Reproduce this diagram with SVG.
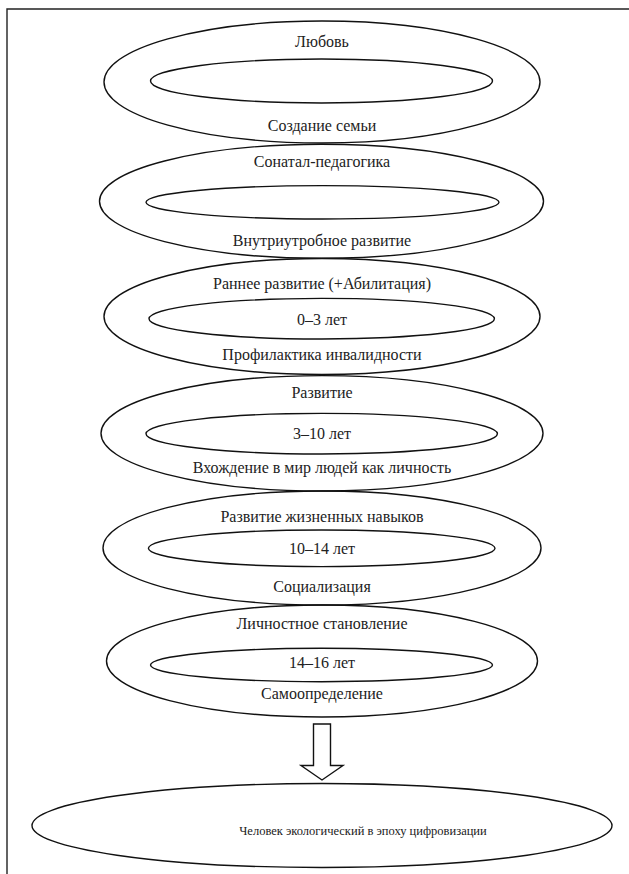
<svg xmlns="http://www.w3.org/2000/svg" width="629" height="874" viewBox="0 0 629 874">
<style>
.o{fill:none;stroke:#111;stroke-width:1.4}
.t{font-family:"Liberation Serif","Times New Roman",serif;font-size:16px;fill:#222;text-anchor:middle}
.s{font-size:12.5px}
</style>
<rect x="0" y="0" width="629" height="874" fill="#fff"/>
<path d="M7 874 V9 H629" fill="none" stroke="#222" stroke-width="1.4"/>
<g id="n1">
<ellipse class="o" cx="322" cy="82" rx="218" ry="61"/>
<ellipse class="o" cx="321.5" cy="81" rx="171" ry="22"/>
<text class="t" x="322" y="47">Любовь</text>
<text class="t" x="322" y="131">Создание семьи</text>
</g>
<g id="n2">
<ellipse class="o" cx="321.5" cy="201.3" rx="222" ry="57"/>
<ellipse class="o" cx="322.5" cy="202.3" rx="176.5" ry="16.7"/>
<text class="t" x="322" y="166.7">Сонатал-педагогика</text>
<text class="t" x="322" y="245.7">Внутриутробное развитие</text>
</g>
<g id="n3">
<ellipse class="o" cx="322" cy="316.5" rx="218" ry="58"/>
<ellipse class="o" cx="321.7" cy="318.7" rx="172.7" ry="20.3"/>
<text class="t" x="322" y="289">Раннее развитие (+Абилитация)</text>
<text class="t" x="322" y="325">0–3 лет</text>
<text class="t" x="322" y="360">Профилактика инвалидности</text>
</g>
<g id="n4">
<ellipse class="o" cx="322" cy="433.3" rx="221" ry="57.7"/>
<ellipse class="o" cx="321.7" cy="433.7" rx="175.7" ry="20.3"/>
<text class="t" x="322" y="398.3">Развитие</text>
<text class="t" x="322" y="439">3–10 лет</text>
<text class="t" x="322" y="472.7">Вхождение в мир людей как личность</text>
</g>
<g id="n5">
<ellipse class="o" cx="322" cy="548" rx="219" ry="57"/>
<ellipse class="o" cx="321.7" cy="548.3" rx="173.3" ry="18.3"/>
<text class="t" x="322" y="521.7">Развитие жизненных навыков</text>
<text class="t" x="322" y="554">10–14 лет</text>
<text class="t" x="322" y="591.7">Социализация</text>
</g>
<g id="n6">
<ellipse class="o" cx="322" cy="661" rx="215.5" ry="56"/>
<ellipse class="o" cx="321.5" cy="665" rx="171" ry="16.7"/>
<text class="t" x="322" y="629.3">Личностное становление</text>
<text class="t" x="322" y="668.3">14–16 лет</text>
<text class="t" x="322" y="699">Самоопределение</text>
</g>
<g id="n7">
<ellipse class="o" cx="322" cy="825.5" rx="290" ry="42"/>
<text class="t s" x="363" y="835">Человек экологический в эпоху цифровизации</text>
</g>
<g id="connectors">
<path class="o" d="M313.5 724 H330.5 V765.5 H343 L322 780 L301 765.5 H313.5 Z"/>
</g>
</svg>
